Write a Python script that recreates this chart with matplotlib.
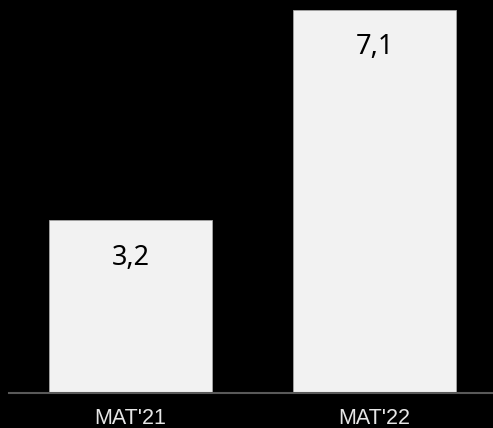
import matplotlib.pyplot as plt

# data
categories = ["MAT'21", "MAT'22"]
values = [3.2, 7.1]
value_labels = ["3,2", "7,1"]

fig = plt.figure(figsize=(4.93, 4.28), dpi=100, facecolor='black')
ax = fig.add_axes([9 / 493, 35 / 428, 484 / 493, 393 / 428])
ax.set_facecolor('black')

x = range(len(categories))
ax.bar(x, values, width=0.668, color='#f2f2f2', edgecolor='#a6a6a6', linewidth=0.6)

for xi, v, lab in zip(x, values, value_labels):
    ax.annotate(lab, xy=(xi, v), xytext=(0, -27), textcoords='offset points',
                ha='center', va='center', fontsize=19.5, color='black',
                fontweight='medium', family=['Noto Sans', 'DejaVu Sans'])

ax.set_xlim(-0.498, 1.486)
ax.set_ylim(0, 7.285)
ax.set_xticks(list(x))
ax.set_xticklabels(categories, fontsize=15.5, color='#e6e6e6',
                   family=['Liberation Sans', 'DejaVu Sans'])
ax.tick_params(axis='x', length=0, pad=11)
ax.set_yticks([])

for side in ['top', 'right', 'left']:
    ax.spines[side].set_visible(False)
ax.spines['bottom'].set_color('#595959')
ax.spines['bottom'].set_linewidth(1.5)

fig.savefig('out.png', dpi=100, facecolor='black')
